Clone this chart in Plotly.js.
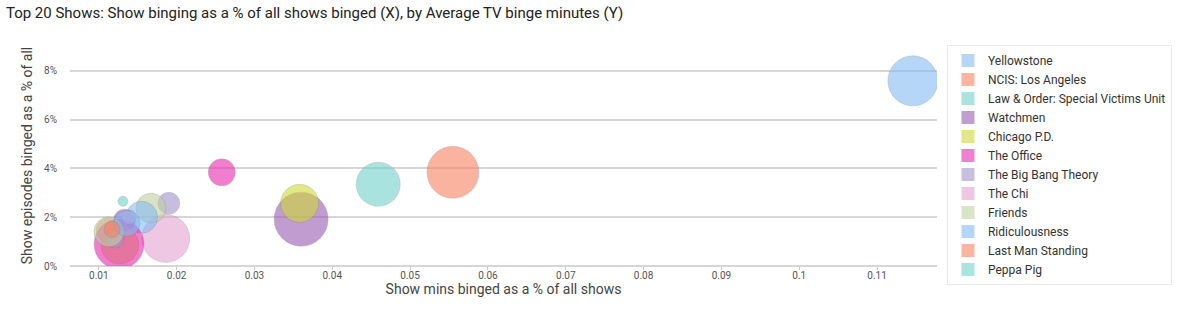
<!DOCTYPE html>
<html>
<head>
<meta charset="utf-8">
<script src="https://cdn.plot.ly/plotly-3.0.1.min.js"></script>
<style>html,body{margin:0;padding:0;background:#fff;}#chart{width:1184px;height:324px;}</style>
</head>
<body>
<div id="chart"></div>
<script>
// Show names (first 12 are visible in the legend; the rest are unlabeled in the reference)
const shows = [
  "Yellowstone", "NCIS: Los Angeles", "Law & Order: Special Victims Unit", "Watchmen",
  "Chicago P.D.", "The Office", "The Big Bang Theory", "The Chi", "Friends",
  "Ridiculousness", "Last Man Standing", "Peppa Pig",
  "", "", "", "", "", "", "", ""
];
// X: show mins binged as a share of all shows
const minsShare = [
  0.1146, 0.0555, 0.0459, 0.0360, 0.0358, 0.0258, 0.0190, 0.0186, 0.0167,
  0.0155, 0.0112, 0.0131,
  0.0133, 0.0127, 0.0126, 0.0121, 0.0139, 0.0113, 0.0136, 0.0117
];
// Y: show episodes binged as a share of all
const episodesShare = [
  0.0759, 0.0384, 0.0335, 0.0192, 0.0257, 0.0384, 0.0257, 0.0113, 0.0237,
  0.0200, 0.0147, 0.0265,
  0.0188, 0.0086, 0.0090, 0.0110, 0.0200, 0.0140, 0.0175, 0.0150
];
// Bubble size: average binge minutes (estimated)
const bingeMinutes = [
  250, 270, 194, 292, 144, 73, 48, 230, 90,
  102, 58, 10,
  48, 144, 250, 32, 20, 90, 68, 26
];
const palette = [
  "rgb(132,187,243)", "rgb(247,130,97)", "rgb(112,210,202)", "rgb(152,92,177)",
  "rgb(207,217,55)", "rgb(232,40,175)", "rgb(162,148,203)", "rgb(228,162,208)",
  "rgb(192,208,163)"
];
const legendSwatch = [
  "#b5d6f8", "#fab4a0", "#a9e4df", "#c19dd0", "#e2e887", "#f17ecf", "#c7bfe0", "#efc7e3", "#d9e3c8"
];

const traces = [];
shows.forEach((name, i) => {
  const c = palette[i % palette.length];
  traces.push({
    type: "scatter", mode: "markers",
    x: [minsShare[i]], y: [episodesShare[i]],
    name: name || ("Show " + (i + 1)),
    legendgroup: "g" + i,
    showlegend: false,
    hovertemplate: "%{x}, %{y:.1%}<extra>" + name + "</extra>",
    marker: {
      size: [bingeMinutes[i]], sizemode: "area", sizeref: 0.2,
      color: c, opacity: 0.6,
      line: {width: 1, color: "rgba(110,110,110,0.35)"}
    }
  });
});
// legend entries for the named shows
shows.forEach((name, i) => {
  if (!name) return;
  traces.push({
    type: "scatter", mode: "markers", x: [null], y: [null],
    name: name, legendgroup: "g" + i, showlegend: true, hoverinfo: "skip",
    marker: {symbol: "square", size: 13, color: legendSwatch[i % legendSwatch.length],
             line: {width: 0}}
  });
});

const font = "Roboto, 'DejaVu Sans', sans-serif";
const layout = {
  width: 1184, height: 324,
  margin: {l: 70, r: 247, t: 45, b: 58},
  paper_bgcolor: "#fff", plot_bgcolor: "#fff",
  font: {family: font, color: "#444", size: 10},
  title: {
    text: "Top 20 Shows: Show binging as a % of all shows binged (X), by Average TV binge minutes (Y)",
    x: 0.005, xref: "container", xanchor: "left",
    y: 0.962, yref: "container", yanchor: "middle",
    font: {family: font, size: 15, color: "#222"}
  },
  xaxis: {
    range: [0.0063, 0.1177], tick0: 0, dtick: 0.01,
    showgrid: false, zeroline: false,
    showline: false,
    ticks: "outside", ticklen: 3, tickcolor: "#c8c8c8",
    ticklabelstandoff: -3,
    tickfont: {size: 10, color: "#555"},
    title: {text: "Show mins binged as a % of all shows", font: {size: 14, color: "#444"}, standoff: 4}
  },
  yaxis: {
    range: [0, 0.0906], tick0: 0, dtick: 0.02, tickformat: ".0%",
    showgrid: true, gridcolor: "#d6d6d6", gridwidth: 1.5,
    zeroline: true, zerolinecolor: "#d6d6d6", zerolinewidth: 1.5,
    ticks: "", ticklabelstandoff: 12,
    tickfont: {size: 10, color: "#555"},
    title: {text: "Show episodes binged as a % of all", font: {size: 14, color: "#444"}, standoff: 8}
  },
  legend: {
    x: 1.0115, xanchor: "left", y: 1, yanchor: "top",
    bgcolor: "#fff", bordercolor: "#e8e8e8", borderwidth: 1,
    font: {size: 12, color: "#333", family: font},
    itemclick: false, itemdoubleclick: false, tracegroupgap: 0,
    maxheight: 260
  },
  showlegend: true,
  hovermode: "closest"
};

Plotly.newPlot("chart", traces, layout, {displayModeBar: false, responsive: false});
</script>
</body>
</html>
